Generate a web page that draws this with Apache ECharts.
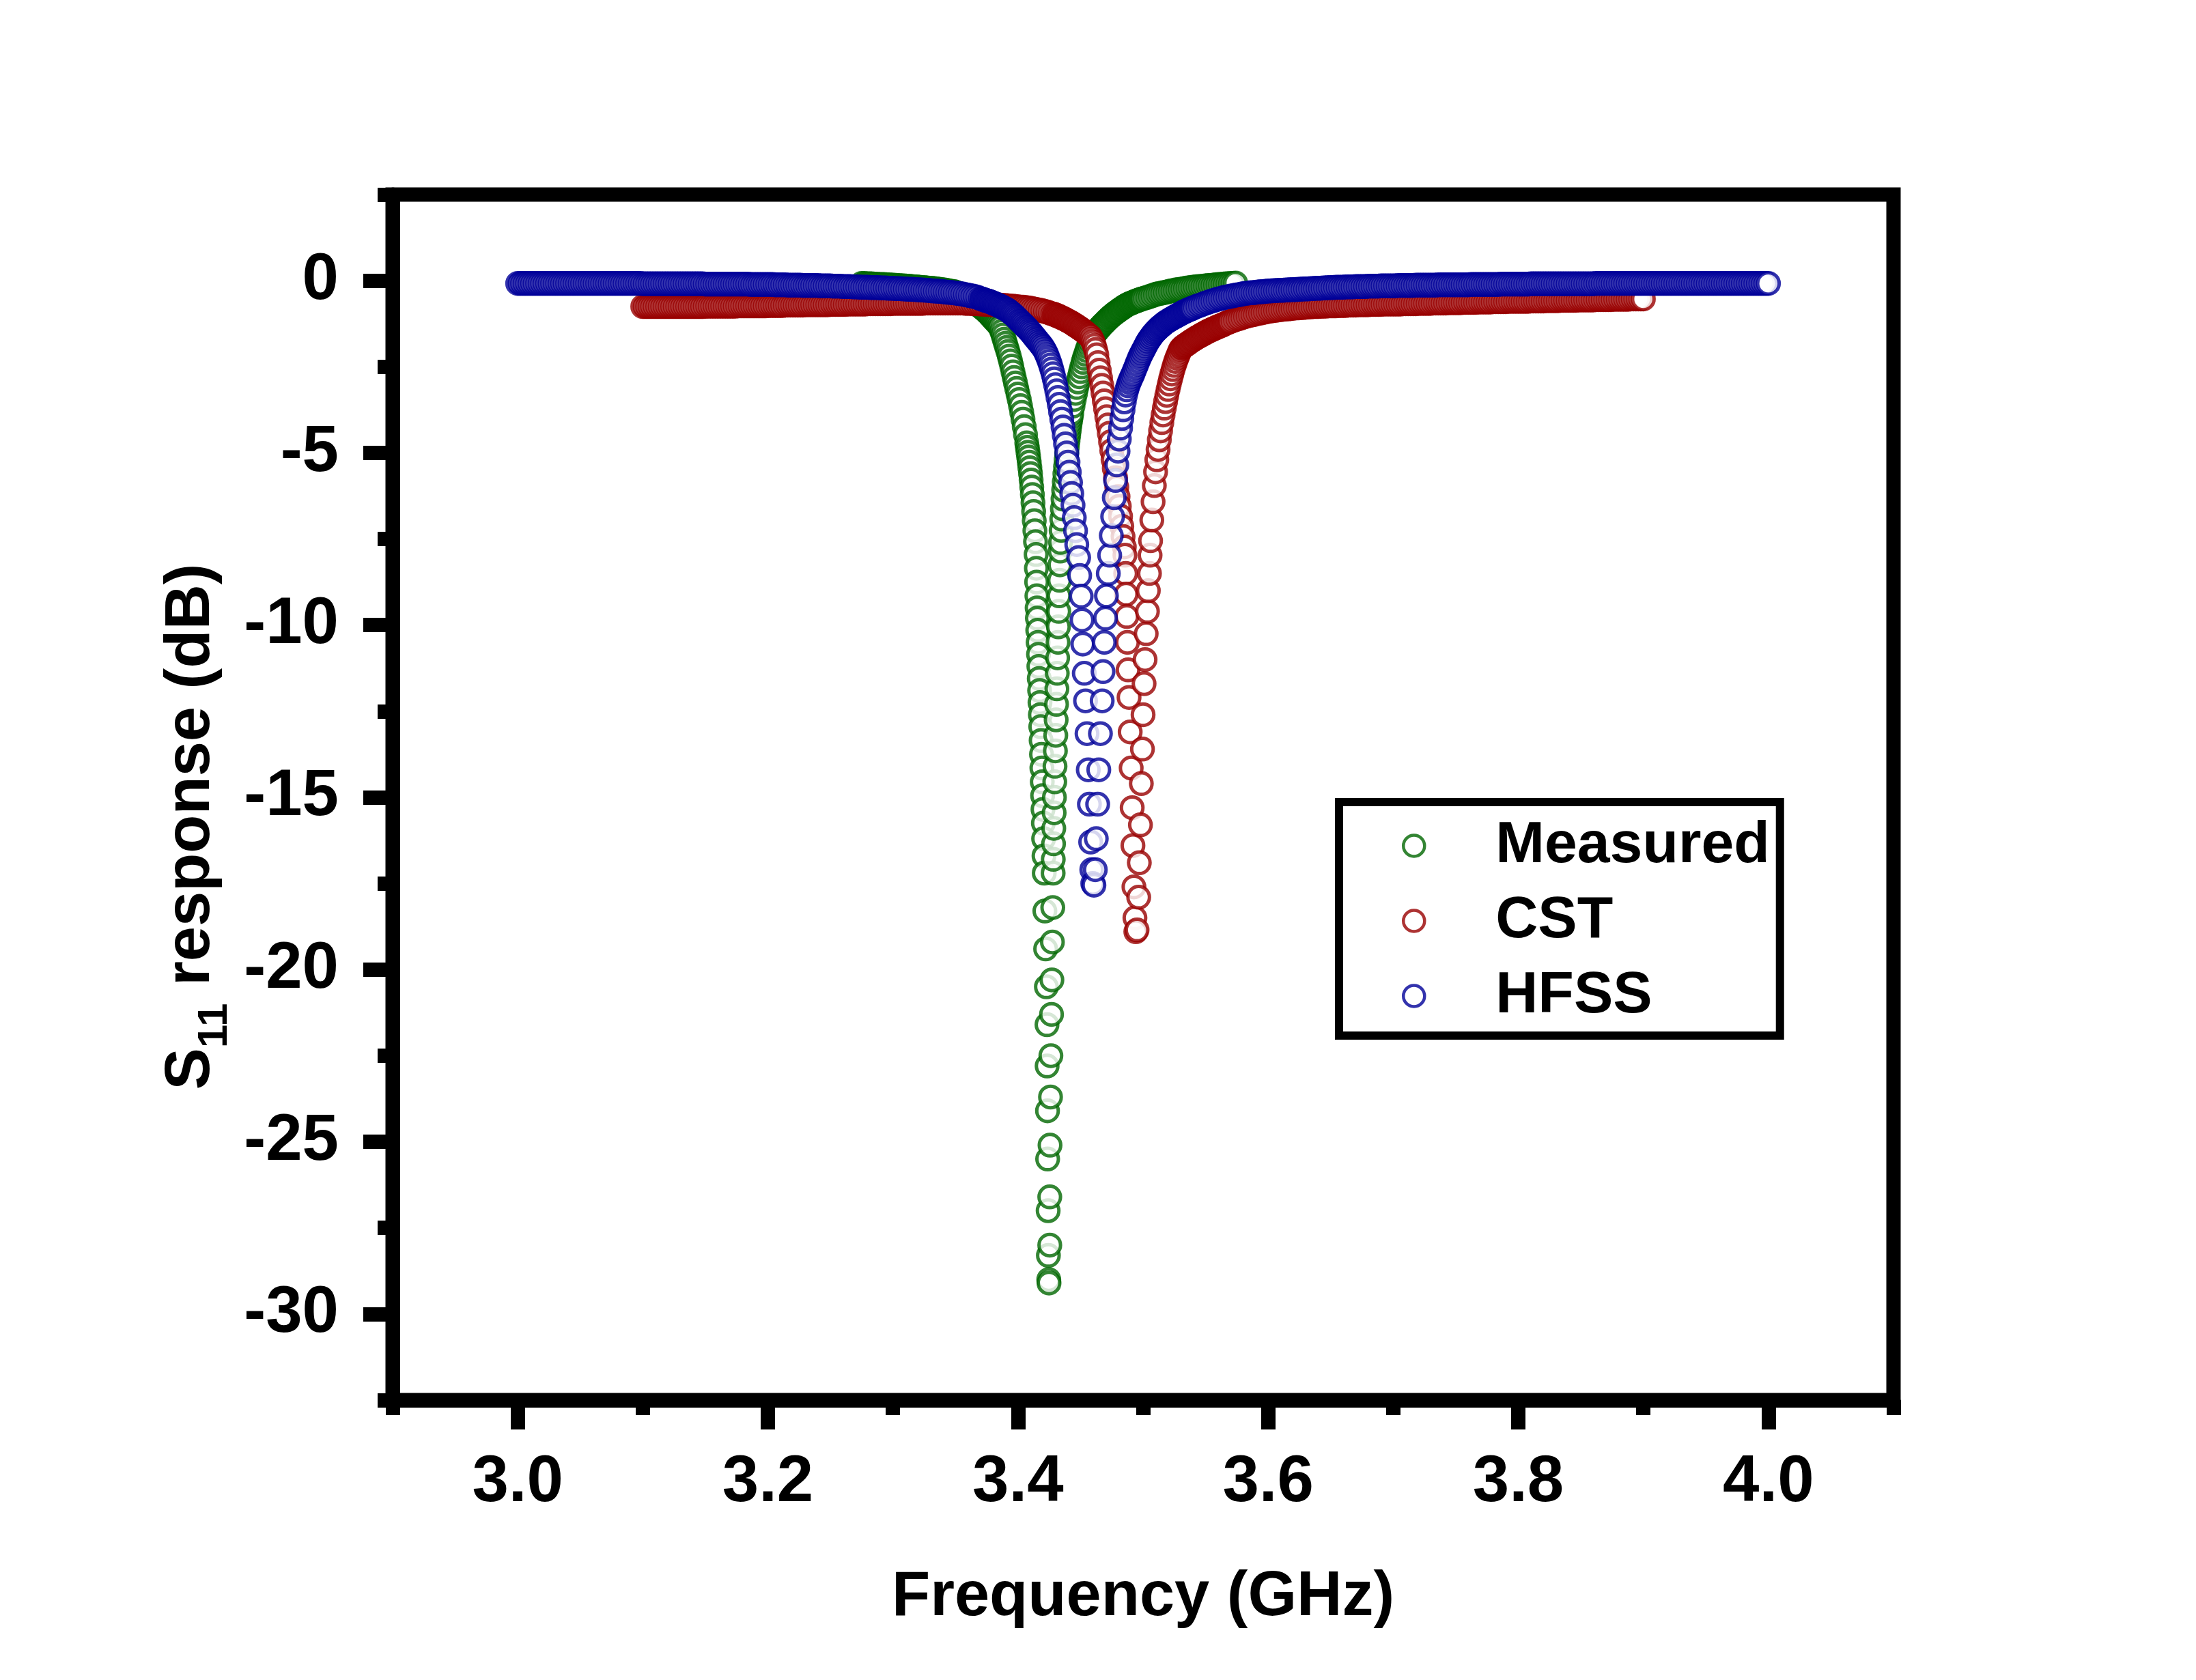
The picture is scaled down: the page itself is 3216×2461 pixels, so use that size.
<!DOCTYPE html>
<html>
<head>
<meta charset="utf-8">
<script src="https://cdn.jsdelivr.net/npm/echarts@6/dist/echarts.min.js"></script>
<style>
html,body{margin:0;padding:0;background:#fff;}
#chart{width:3216px;height:2461px;}
</style>
</head>
<body>
<div id="chart"></div>
<script>
// ---------- data ----------
const FLAT_STEP = 0.002;  // GHz, sweep step in the flat parts
const FINE_STEP = 0.001;  // GHz, sweep step near the resonances
const xTickLabels = [3.0, 3.2, 3.4, 3.6, 3.8, 4.0];
const xMinorTicks = [2.9, 3.1, 3.3, 3.5, 3.7, 3.9, 4.1];
const yTickLabels = [-30, -25, -20, -15, -10, -5, 0];
const yMinorTicks = [-32.5, -27.5, -22.5, -17.5, -12.5, -7.5, -2.5, 2.5];
const seriesNames = ['Measured', 'CST', 'HFSS'];

// ---- Measured ----
const measuredFlatLeftStart = 3.275;
const measuredFlatLeftDb = [
-0.08,-0.08,-0.09,-0.09,-0.09,-0.10,-0.10,-0.11,-0.11,-0.11,
-0.12,-0.12,-0.13,-0.13,-0.14,-0.14,-0.15,-0.15,-0.16,-0.16,
-0.17,-0.18,-0.18,-0.19,-0.20,-0.20,-0.21,-0.22,-0.22,-0.23,
-0.24,-0.25,-0.26,-0.27,-0.28,-0.30,-0.31,-0.32
];
const measuredFineLeftStart = 3.350;
const measuredFineLeftDb = [
-0.34,-0.35,-0.37,-0.38,-0.40,-0.42,-0.43,-0.45,-0.46,-0.48,
-0.50,-0.52,-0.54,-0.56,-0.58,-0.61,-0.64,-0.66,-0.69,-0.72,
-0.75,-0.78,-0.81,-0.84,-0.87,-0.91,-0.94,-0.98,-1.02,-1.06,
-1.10,-1.14,-1.18,-1.22,-1.26,-1.31
];
const measuredDip = [
[3.386,-1.36],[3.387,-1.47],[3.388,-1.58],[3.389,-1.70],[3.390,-1.82],[3.391,-1.94],[3.392,-2.06],[3.393,-2.19],
[3.394,-2.33],[3.395,-2.48],[3.396,-2.65],[3.397,-2.81],[3.398,-2.97],[3.399,-3.13],[3.400,-3.29],[3.401,-3.45],
[3.402,-3.63],[3.403,-3.82],[3.404,-4.02],[3.405,-4.24],[3.406,-4.47],[3.407,-4.71],[3.4075,-4.84],[3.408,-4.98],
[3.4085,-5.12],[3.409,-5.27],[3.4095,-5.43],[3.410,-5.60],[3.4105,-5.79],[3.411,-5.99],[3.4115,-6.21],[3.412,-6.45],
[3.4125,-6.70],[3.413,-6.97],[3.4135,-7.26],[3.414,-7.58],[3.4145,-7.95],[3.4147,-8.35],[3.4149,-8.75],[3.4151,-9.15],
[3.4153,-9.50],[3.4155,-9.80],[3.4158,-10.15],[3.4161,-10.50],[3.4164,-10.85],[3.4167,-11.20],[3.4170,-11.55],
[3.4173,-11.90],[3.4176,-12.25],[3.4179,-12.60],[3.4182,-12.95],[3.4185,-13.35],[3.4188,-13.75],[3.4191,-14.15],
[3.4194,-14.55],[3.4197,-14.95],[3.4200,-15.35],[3.4203,-15.75],[3.4205,-16.2],[3.4208,-16.7],[3.4210,-17.2],
[3.4215,-18.3],[3.4221,-19.4],[3.4227,-20.5],[3.4232,-21.6],[3.4233,-22.8],[3.4236,-24.1],[3.4237,-25.5],
[3.4241,-27.0],[3.4243,-28.3],[3.4246,-29.0],[3.4248,-29.1],[3.4254,-28.0],[3.4254,-26.6],[3.4256,-25.1],
[3.4260,-23.7],[3.4263,-22.5],[3.4268,-21.3],[3.4271,-20.3],[3.4275,-19.2],[3.4278,-18.2],[3.4281,-17.2],
[3.4282,-16.8],[3.4284,-16.35],[3.4286,-15.9],[3.4289,-15.45],[3.4291,-15.0],[3.4294,-14.55],[3.4296,-14.1],
[3.4299,-13.65],[3.4302,-13.2],[3.4305,-12.75],[3.4308,-12.3],[3.4311,-11.85],[3.4314,-11.4],[3.4317,-10.95],
[3.4320,-10.5],[3.4323,-10.05],[3.4326,-9.6],[3.4329,-9.15],[3.4332,-8.7],[3.4335,-8.25],[3.4338,-7.85],
[3.4340,-7.60],[3.4345,-7.25],[3.4350,-6.92],[3.4355,-6.62],[3.4360,-6.34],[3.4365,-6.08],[3.4370,-5.84],
[3.4375,-5.61],[3.4380,-5.40],[3.4385,-5.20],[3.4390,-5.01],[3.4395,-4.83],[3.4400,-4.66],[3.4405,-4.50],
[3.4410,-4.35],[3.4415,-4.21],[3.4420,-4.08],[3.4425,-3.96],[3.443,-3.85],[3.444,-3.64],[3.445,-3.45],
[3.446,-3.27],[3.447,-3.10],[3.448,-2.94],[3.449,-2.79],[3.450,-2.64],[3.451,-2.50],[3.452,-2.37],[3.453,-2.25],
[3.454,-2.14],[3.455,-2.03],[3.456,-1.93],[3.457,-1.84],[3.458,-1.76],[3.459,-1.68],[3.460,-1.61]
];
const measuredFineRightStart = 3.461;
const measuredFineRightDb = [
-1.56,-1.52,-1.47,-1.43,-1.38,-1.34,-1.30,-1.26,-1.23,-1.19,
-1.15,-1.12,-1.08,-1.05,-1.02,-0.99,-0.96,-0.93,-0.91,-0.88,
-0.85,-0.83,-0.80,-0.78,-0.75,-0.73,-0.71,-0.69,-0.67,-0.66,
-0.64,-0.63,-0.61,-0.60,-0.58,-0.57,-0.56,-0.54,-0.53,-0.52
];
const measuredFlatRightStart = 3.502;
const measuredFlatRightDb = [
-0.50,-0.48,-0.45,-0.43,-0.40,-0.38,-0.37,-0.35,-0.34,-0.32,
-0.30,-0.29,-0.27,-0.26,-0.25,-0.24,-0.22,-0.21,-0.20,-0.19,
-0.18,-0.17,-0.17,-0.16,-0.15,-0.14,-0.14,-0.13,-0.12,-0.11,
-0.11,-0.10,-0.09,-0.09,-0.08,-0.08,-0.07
];

// ---- CST ----
const cstFlatLeftStart = 3.100;
const cstFlatLeftDb = [
-0.75,-0.75,-0.75,-0.75,-0.75,-0.75,-0.75,-0.75,-0.75,-0.75,
-0.75,-0.75,-0.75,-0.75,-0.75,-0.75,-0.75,-0.75,-0.75,-0.75,
-0.75,-0.75,-0.75,-0.75,-0.75,
-0.74,-0.74,-0.74,-0.74,-0.74,-0.74,-0.74,-0.74,-0.74,-0.74,-0.74,-0.74,-0.74,
-0.73,-0.73,-0.73,-0.73,-0.73,-0.73,-0.73,-0.73,-0.73,-0.73,-0.73,-0.73,
-0.72,-0.72,-0.72,-0.72,-0.72,-0.72,-0.72,
-0.71,-0.71,-0.71,-0.71,-0.71,-0.71,-0.71,-0.71,
-0.70,-0.70,-0.70,-0.70,-0.70,-0.70,-0.70,-0.70,-0.70,-0.70,
-0.69,-0.69,-0.69,-0.69,-0.69,-0.69,-0.69,
-0.68,-0.68,-0.68,-0.68,-0.68,-0.68,-0.68,-0.68,
-0.67,-0.67,-0.67,-0.67,-0.67,-0.67,-0.67,-0.67,-0.67,-0.67,
-0.66,-0.66,-0.66,-0.66,-0.66,-0.66,-0.66,-0.66,-0.66,-0.66,-0.66,-0.66,-0.66,
-0.65,-0.65,-0.65,-0.65,-0.65,-0.65,-0.65,-0.65,-0.65,-0.65,-0.65,-0.65,-0.65,-0.65,-0.65,-0.65,
-0.66,-0.66,-0.66,-0.67,-0.67,-0.67,-0.68,-0.68,-0.69,-0.69,
-0.70,-0.70,-0.70,-0.71,-0.71,-0.72,-0.72,-0.73,-0.74,-0.74,
-0.75,-0.76,-0.77,-0.77,-0.78,-0.79,-0.80,-0.82,-0.83,-0.85,
-0.86,-0.88,-0.90,-0.92,-0.95,-0.97
];
const cstFineLeftStart = 3.429;
const cstFineLeftDb = [
-0.98,-1.00,-1.01,-1.03,-1.04,-1.06,-1.08,-1.09,-1.11,-1.13,
-1.15,-1.17,-1.19,-1.21,-1.23,-1.25,-1.28,-1.30,-1.32,-1.35,
-1.37,-1.40,-1.42,-1.45,-1.48,-1.51,-1.54,-1.57,-1.60
];
const cstDip = [
[3.458,-1.63],[3.459,-1.70],[3.460,-1.78],[3.461,-1.88],[3.462,-2.00],[3.463,-2.15],[3.464,-2.38],[3.465,-2.60],
[3.466,-2.82],[3.467,-3.04],[3.468,-3.26],[3.469,-3.49],[3.470,-3.72],[3.471,-3.95],[3.472,-4.19],[3.473,-4.43],
[3.474,-4.68],[3.475,-4.93],[3.476,-5.19],[3.477,-5.45],[3.478,-5.72],[3.479,-5.99],[3.480,-6.27],[3.481,-6.55],
[3.482,-6.84],[3.483,-7.13],[3.484,-7.43],[3.485,-7.73],[3.4855,-7.97],[3.4861,-8.5],[3.4865,-9.1],[3.4870,-9.75],
[3.4875,-10.5],[3.4880,-11.3],[3.4888,-12.1],[3.4897,-13.1],[3.4905,-14.15],[3.4913,-15.3],[3.4919,-16.4],
[3.4927,-17.6],[3.4935,-18.5],[3.4942,-18.9],[3.4952,-18.85],[3.4965,-17.9],[3.4970,-16.9],[3.4979,-15.8],
[3.4986,-14.6],[3.4995,-13.6],[3.5000,-12.6],[3.5008,-11.7],[3.5016,-11.0],[3.5025,-10.25],[3.5035,-9.6],
[3.5042,-9.0],[3.5051,-8.5],[3.5056,-7.97],[3.506,-7.55],[3.507,-6.95],[3.508,-6.42],[3.509,-5.95],[3.510,-5.55],
[3.511,-5.20],[3.512,-4.90],[3.513,-4.62],[3.514,-4.36],[3.515,-4.12],[3.516,-3.90],[3.517,-3.70],[3.518,-3.51],
[3.519,-3.33],[3.520,-3.16],[3.521,-3.00],[3.522,-2.85],[3.523,-2.71],[3.524,-2.58],[3.525,-2.46],[3.526,-2.35],
[3.527,-2.25],[3.528,-2.16],[3.529,-2.07],[3.530,-1.99]
];
const cstFineRightStart = 3.531;
const cstFineRightDb = [
-1.95,-1.92,-1.89,-1.87,-1.84,-1.82,-1.79,-1.77,-1.74,-1.72,
-1.70,-1.67,-1.65,-1.63,-1.61,-1.59,-1.57,-1.55,-1.53,-1.51,
-1.49,-1.47,-1.45,-1.44,-1.42,-1.40,-1.39,-1.37,-1.35,-1.34,
-1.32,-1.31,-1.29,-1.28,-1.26,-1.24,-1.23,-1.21,-1.20,-1.18
];
const cstFlatRightStart = 3.572;
const cstFlatRightDb = [
-1.16,-1.13,-1.11,-1.09,-1.06,-1.04,-1.02,-1.00,-0.99,-0.97,
-0.95,-0.94,-0.92,-0.91,-0.89,-0.88,-0.87,-0.86,-0.85,-0.84,
-0.83,-0.82,-0.82,-0.81,-0.80,-0.79,-0.79,-0.78,-0.78,-0.77,
-0.76,-0.76,-0.75,-0.75,-0.75,-0.74,-0.74,-0.74,-0.73,-0.73,
-0.73,-0.73,-0.72,-0.72,-0.72,-0.72,-0.71,-0.71,-0.71,-0.71,
-0.70,-0.70,-0.70,-0.70,-0.70,-0.69,-0.69,-0.69,-0.69,-0.69,
-0.68,-0.68,-0.68,-0.68,-0.68,
-0.68,-0.68,-0.68,-0.67,-0.67,-0.67,-0.67,-0.67,-0.67,-0.66,
-0.66,-0.66,-0.66,-0.66,-0.66,-0.65,-0.65,-0.65,-0.65,-0.65,
-0.65,-0.64,-0.64,-0.64,-0.64,-0.64,-0.64,-0.63,-0.63,-0.63,
-0.63,-0.63,-0.63,-0.62,-0.62,-0.62,-0.62,-0.62,-0.62,-0.61,
-0.61,-0.61,-0.61,-0.61,-0.61,-0.60,-0.60,-0.60,-0.60,-0.60,
-0.60,-0.60,-0.60,-0.60,-0.59,-0.59,-0.59,-0.59,-0.59,-0.59,
-0.58,-0.58,-0.58,-0.58,-0.58,-0.58,-0.57,-0.57,-0.57,-0.57,
-0.57,-0.57,-0.57,-0.56,-0.56,-0.56,-0.56,-0.56,-0.56,-0.56,
-0.55,-0.55,-0.55,-0.55,-0.55,-0.55,-0.55,-0.54,-0.54,-0.54,
-0.54,-0.54,-0.54,-0.54,-0.53,-0.53,-0.53,-0.53,-0.53,-0.53
];

// ---- HFSS ----
const hfssFlatLeftStart = 3.000;
const hfssFlatLeftDb = [
-0.08,-0.08,-0.08,-0.08,-0.08,-0.08,-0.08,-0.08,-0.08,-0.08,
-0.08,-0.08,-0.08,-0.08,-0.08,-0.08,-0.08,-0.08,-0.08,-0.08,
-0.08,-0.08,-0.08,-0.08,-0.08,-0.08,-0.08,-0.08,-0.08,-0.08,
-0.08,-0.08,-0.08,-0.08,-0.08,-0.08,-0.08,-0.08,-0.08,-0.08,
-0.08,-0.08,-0.08,-0.08,-0.08,-0.08,-0.08,-0.08,-0.08,-0.08,
-0.09,-0.09,-0.09,-0.09,-0.09,-0.09,-0.09,-0.09,-0.09,-0.09,
-0.09,-0.09,-0.09,-0.09,-0.09,-0.09,-0.09,-0.09,-0.09,-0.09,
-0.09,-0.09,-0.09,-0.09,-0.09,
-0.10,-0.10,-0.10,-0.10,-0.10,-0.10,-0.10,-0.10,-0.10,-0.10,
-0.10,-0.10,-0.10,-0.10,-0.10,-0.10,-0.10,-0.10,
-0.11,-0.11,-0.11,-0.11,-0.11,-0.11,-0.11,
-0.11,-0.11,-0.11,-0.12,-0.12,-0.12,-0.12,-0.12,-0.13,-0.13,
-0.13,-0.13,-0.13,-0.13,-0.14,-0.14,-0.14,-0.14,-0.14,-0.14,
-0.14,-0.15,-0.15,-0.15,-0.15,-0.15,-0.16,-0.16,-0.16,-0.16,
-0.17,-0.17,-0.17,-0.17,-0.18,-0.18,-0.18,-0.19,-0.19,-0.19,
-0.19,-0.20,-0.20,-0.20,-0.20,-0.21,-0.21,-0.21,-0.22,-0.22,
-0.22,-0.23,-0.23,-0.23,-0.24,-0.24,-0.25,-0.25,-0.25,-0.26,
-0.26,-0.27,-0.27,-0.28,-0.28,-0.29,-0.30,-0.30,-0.31,-0.31,
-0.32,-0.33,-0.34,-0.34,-0.35,-0.36,-0.37,-0.38,-0.39,-0.41,
-0.42,-0.44,-0.45,-0.47,-0.49,-0.52
];
const hfssFineLeftStart = 3.371;
const hfssFineLeftDb = [
-0.53,-0.54,-0.56,-0.57,-0.58,-0.59,-0.60,-0.62,-0.63,-0.65,
-0.66,-0.68,-0.69,-0.71,-0.73,-0.74,-0.76,-0.78,-0.80,-0.82,
-0.84,-0.86,-0.89,-0.92,-0.95,-0.98,-1.01,-1.05,-1.08,-1.12,
-1.16,-1.19,-1.23,-1.26,-1.30,-1.34,-1.37,-1.41,-1.45,-1.49,
-1.53,-1.58,-1.62,-1.67,-1.71,-1.76,-1.80
];
const hfssDip = [
[3.418,-1.85],[3.419,-1.89],[3.420,-1.94],[3.421,-2.00],[3.422,-2.07],[3.423,-2.15],[3.424,-2.24],[3.425,-2.34],
[3.426,-2.45],[3.427,-2.57],[3.428,-2.70],[3.429,-2.85],[3.430,-3.02],[3.431,-3.20],[3.432,-3.39],[3.433,-3.59],
[3.434,-3.80],[3.435,-4.02],[3.436,-4.25],[3.437,-4.49],[3.438,-4.74],[3.439,-5.00],[3.440,-5.27],[3.441,-5.56],
[3.442,-5.86],[3.443,-6.18],[3.444,-6.52],[3.445,-6.88],[3.446,-7.26],[3.447,-7.66],[3.4485,-8.04],[3.4493,-8.56],
[3.4505,-9.16],[3.4512,-9.85],[3.4518,-10.55],[3.4530,-11.4],[3.4540,-12.2],[3.4552,-13.15],[3.4562,-14.2],
[3.4571,-15.2],[3.4581,-16.3],[3.4590,-17.1],[3.4598,-17.5],[3.4607,-17.55],[3.4618,-17.1],[3.4626,-16.2],
[3.4637,-15.2],[3.4646,-14.2],[3.4659,-13.15],[3.4673,-12.2],[3.4680,-11.35],[3.4690,-10.5],[3.4700,-9.8],
[3.4707,-9.15],[3.4722,-8.5],[3.4733,-7.97],[3.4746,-7.4],[3.4757,-6.85],[3.4770,-6.3],[3.4780,-5.8],
[3.4790,-5.35],[3.4800,-4.95],[3.4810,-4.6],[3.4820,-4.28],[3.4830,-4.0],[3.4840,-3.75],[3.4850,-3.52],
[3.4860,-3.32],[3.4870,-3.17],[3.4880,-3.05],[3.4890,-2.95],[3.4900,-2.86],[3.4910,-2.78],[3.4920,-2.70],
[3.4930,-2.61],[3.4940,-2.52],[3.4950,-2.43],[3.4960,-2.34],[3.4970,-2.25],[3.4980,-2.17],[3.4990,-2.10]
];
const hfssFineRightStart = 3.500;
const hfssFineRightDb = [
-2.03,-1.96,-1.89,-1.82,-1.76,-1.70,-1.65,-1.60,-1.55,-1.51,
-1.47,-1.43,-1.40,-1.36,-1.33,-1.30,-1.27,-1.24,-1.21,-1.19,
-1.17,-1.14,-1.12,-1.10,-1.08,-1.06,-1.04,-1.02,-1.00,-0.98,
-0.96,-0.94,-0.92,-0.90,-0.89,-0.87,-0.85,-0.84,-0.82,-0.81,
-0.79
];
const hfssFlatRightStart = 3.542;
const hfssFlatRightDb = [
-0.76,-0.73,-0.71,-0.68,-0.65,-0.63,-0.60,-0.58,-0.56,-0.53,
-0.52,-0.50,-0.48,-0.47,-0.45,-0.44,-0.42,-0.41,-0.40,-0.38,
-0.37,-0.36,-0.35,-0.35,-0.34,-0.33,-0.32,-0.32,-0.31,-0.30,
-0.30,-0.29,-0.29,-0.28,-0.28,-0.28,-0.27,-0.27,-0.26,-0.26,
-0.26,-0.25,-0.25,-0.24,-0.24,-0.24,-0.23,-0.23,-0.22,-0.22,
-0.22,-0.21,-0.21,-0.20,-0.20,
-0.20,-0.19,-0.19,-0.19,-0.19,-0.18,-0.18,-0.18,-0.18,-0.17,
-0.17,-0.17,-0.17,-0.17,-0.16,-0.16,-0.16,-0.16,-0.16,-0.15,
-0.15,-0.15,-0.15,-0.15,-0.15,
-0.15,-0.14,-0.14,-0.14,-0.14,-0.14,-0.14,-0.14,-0.13,-0.13,
-0.13,-0.13,-0.13,-0.13,-0.13,-0.13,-0.13,-0.12,-0.12,-0.12,
-0.12,-0.12,-0.12,-0.12,-0.12,
-0.12,-0.12,-0.12,-0.12,-0.12,-0.11,-0.11,-0.11,-0.11,-0.11,
-0.11,-0.11,-0.11,-0.11,-0.11,-0.11,-0.11,-0.10,-0.10,-0.10,
-0.10,-0.10,-0.10,-0.10,-0.10,-0.10,-0.10,-0.10,-0.10,-0.09,
-0.09,-0.09,-0.09,-0.09,-0.09,-0.09,-0.09,-0.09,-0.09,-0.09,
-0.09,-0.09,-0.09,-0.09,-0.09,-0.09,-0.09,-0.09,-0.09,-0.09,
-0.09,-0.09,-0.09,-0.09,-0.09,-0.08,-0.08,-0.08,-0.08,-0.08,
-0.08,-0.08,-0.08,-0.08,-0.08,-0.08,-0.08,-0.08,-0.08,-0.08,
-0.08,-0.08,-0.08,-0.08,-0.08,-0.08,-0.08,-0.08,-0.08,-0.08,
-0.08,-0.08,-0.08,-0.08,-0.08,-0.08,-0.08,-0.08,-0.08,-0.08,
-0.08,-0.08,-0.08,-0.08,-0.08,-0.08,-0.08,-0.08,-0.08,-0.08,
-0.08,-0.08,-0.08,-0.08,-0.08,-0.08,-0.08,-0.08,-0.08,-0.08,
-0.08,-0.08,-0.08,-0.08,-0.08,-0.08,-0.08,-0.08,-0.08,-0.08,
-0.08,-0.08,-0.08,-0.08,-0.08
];

// ---------- build ----------
function sweep(start, step, values) {
  return values.map((v, i) => [+(start + i * step).toFixed(4), v]);
}
const measuredData = [].concat(
  sweep(measuredFlatLeftStart, FLAT_STEP, measuredFlatLeftDb),
  sweep(measuredFineLeftStart, FINE_STEP, measuredFineLeftDb),
  measuredDip,
  sweep(measuredFineRightStart, FINE_STEP, measuredFineRightDb),
  sweep(measuredFlatRightStart, FLAT_STEP, measuredFlatRightDb));
const cstData = [].concat(
  sweep(cstFlatLeftStart, FLAT_STEP, cstFlatLeftDb),
  sweep(cstFineLeftStart, FINE_STEP, cstFineLeftDb),
  cstDip,
  sweep(cstFineRightStart, FINE_STEP, cstFineRightDb),
  sweep(cstFlatRightStart, FLAT_STEP, cstFlatRightDb));
const hfssData = [].concat(
  sweep(hfssFlatLeftStart, FLAT_STEP, hfssFlatLeftDb),
  sweep(hfssFineLeftStart, FINE_STEP, hfssFineLeftDb),
  hfssDip,
  sweep(hfssFineRightStart, FINE_STEP, hfssFineRightDb),
  sweep(hfssFlatRightStart, FLAT_STEP, hfssFlatRightDb));

const FONT = '"Liberation Sans", Arial, Helvetica, sans-serif';
const COLORS = ['#006600', '#990000', '#000099'];
const AXIS_W = 21;

function ringSeries(name, data, color) {
  return {
    type: 'scatter', name: name, data: data,
    xAxisIndex: 0, yAxisIndex: 0,
    symbol: 'circle', symbolSize: 31.5,
    itemStyle: { color: '#ffffff', borderColor: color, borderWidth: 5 },
    emphasis: { disabled: true }, silent: true, large: false, progressive: 0, animation: false
  };
}

const chart = echarts.init(document.getElementById('chart'), null, { renderer: 'canvas', devicePixelRatio: 1 });
chart.setOption({
  backgroundColor: '#ffffff',
  animation: false,
  grid: {
    left: 575, top: 285, width: 2198, height: 1766,
    show: true, borderColor: '#000', borderWidth: AXIS_W, backgroundColor: 'transparent',
    containLabel: false, outerBoundsMode: 'none'
  },
  legend: {
    orient: 'vertical', left: 1961, top: 1175,
    padding: [21, 15, 15, 92],
    itemWidth: 31, itemHeight: 31, itemGap: 24,
    icon: 'circle',
    borderColor: '#000', borderWidth: 12, backgroundColor: '#fff',
    itemStyle: { borderWidth: 4.5 },
    textStyle: { fontSize: 86, fontWeight: 'bold', fontFamily: FONT, color: '#000', padding: [0, 0, 0, 99] },
    data: seriesNames,
    selectedMode: false
  },
  xAxis: [{
    type: 'value', min: 2.9, max: 4.1, position: 'bottom',
    axisLine: { show: true, onZero: false, lineStyle: { color: '#000', width: AXIS_W } },
    axisTick: { show: true, inside: false, length: 43, customValues: xTickLabels, lineStyle: { color: '#000', width: AXIS_W } },
    axisLabel: { show: true, customValues: xTickLabels, margin: 74, formatter: v => Number(v).toFixed(1),
      fontSize: 96, fontWeight: 'bold', fontFamily: FONT, color: '#000' },
    splitLine: { show: false },
    name: 'Frequency (GHz)', nameLocation: 'middle', nameGap: 244,
    nameTextStyle: { fontSize: 92, fontWeight: 'bold', fontFamily: FONT, color: '#000' }
  }, {
    type: 'value', min: 2.9, max: 4.1, position: 'bottom', gridIndex: 0,
    axisLine: { show: false, onZero: false },
    axisTick: { show: true, inside: false, length: 22, customValues: xMinorTicks, lineStyle: { color: '#000', width: AXIS_W } },
    axisLabel: { show: false },
    splitLine: { show: false }
  }],
  yAxis: [{
    type: 'value', min: -32.5, max: 2.5, position: 'left',
    axisLine: { show: true, onZero: false, lineStyle: { color: '#000', width: AXIS_W } },
    axisTick: { show: true, inside: false, length: 43, customValues: yTickLabels, lineStyle: { color: '#000', width: AXIS_W } },
    axisLabel: { show: true, customValues: yTickLabels, margin: 79, formatter: v => String(v),
      fontSize: 96, fontWeight: 'bold', fontFamily: FONT, color: '#000' },
    splitLine: { show: false },
    name: '{m|S}{s|11}{m| response (dB)}', nameLocation: 'middle', nameRotate: 90, nameGap: 245,
    nameTextStyle: {
      fontSize: 92, fontWeight: 'bold', fontFamily: FONT, color: '#000', padding: [0, 86, 0, 0],
      rich: {
        m: { fontSize: 92, fontWeight: 'bold', fontFamily: FONT, color: '#000', lineHeight: 92, verticalAlign: 'top' },
        s: { fontSize: 62, fontWeight: 'bold', fontFamily: FONT, color: '#000', lineHeight: 62, padding: [50, 0, 0, 0], verticalAlign: 'top' }
      }
    }
  }, {
    type: 'value', min: -32.5, max: 2.5, position: 'left', gridIndex: 0,
    axisLine: { show: false, onZero: false },
    axisTick: { show: true, inside: false, length: 22, customValues: yMinorTicks, lineStyle: { color: '#000', width: AXIS_W } },
    axisLabel: { show: false },
    splitLine: { show: false }
  }],
  series: [
    ringSeries(seriesNames[0], measuredData, COLORS[0]),
    ringSeries(seriesNames[1], cstData, COLORS[1]),
    ringSeries(seriesNames[2], hfssData, COLORS[2])
  ]
});
</script>
</body>
</html>
